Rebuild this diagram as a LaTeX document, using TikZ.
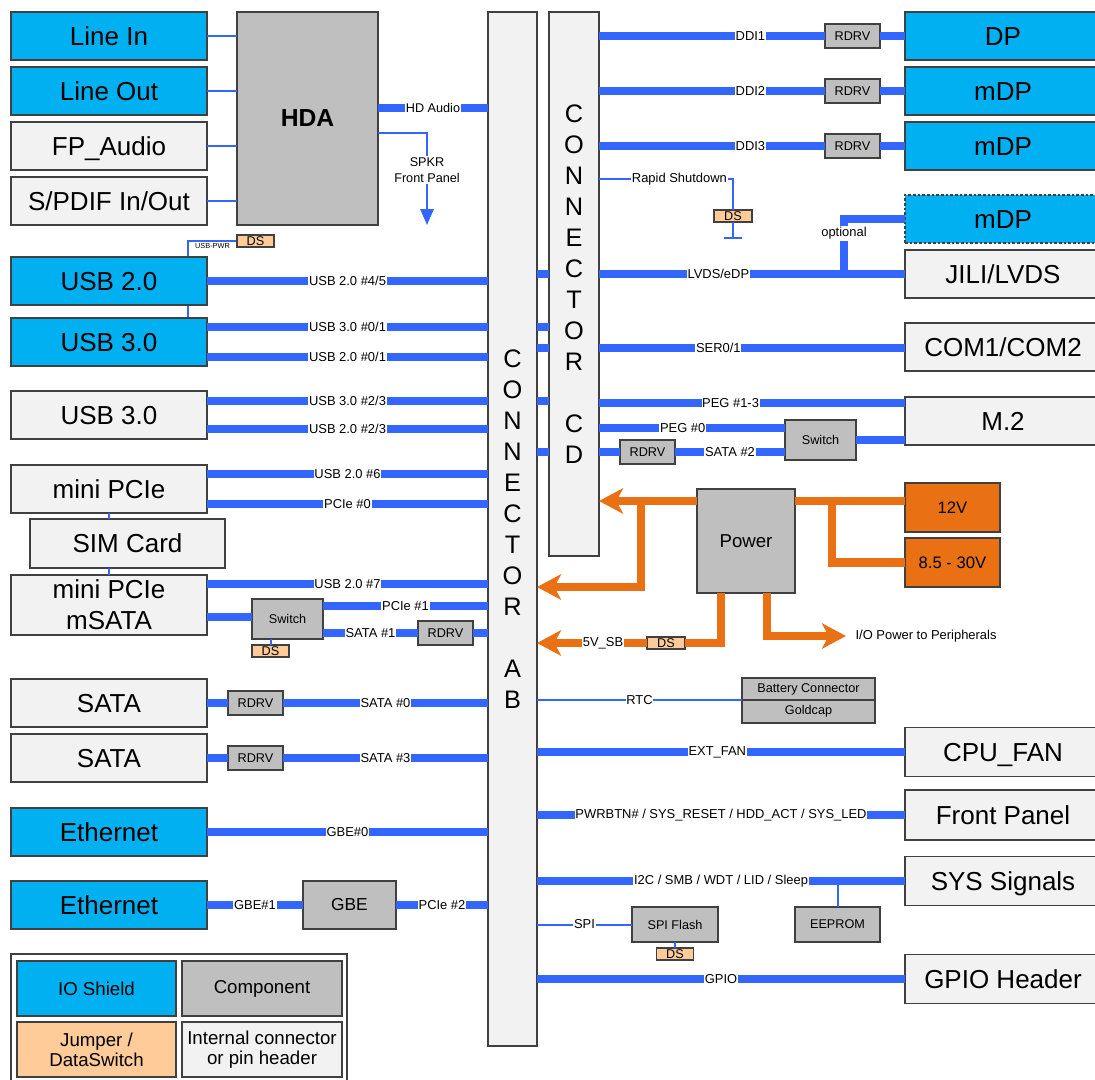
\documentclass[tikz,border=0pt]{standalone}
\usepackage{fontspec}
\setmainfont{Liberation Sans}
\usepackage{xcolor}
\usepackage{tikz}
\usetikzlibrary{arrows.meta,backgrounds}

\definecolor{ioblue}{RGB}{0,176,240}
\definecolor{compgray}{RGB}{191,191,191}
\definecolor{hdrgray}{RGB}{242,242,242}
\definecolor{jmporange}{RGB}{255,204,153}
\definecolor{pworange}{RGB}{233,113,20}
\definecolor{busblue}{RGB}{51,102,255}
\definecolor{boxline}{RGB}{64,64,64}

\newcommand{\boxfont}{\fontsize{19.5}{23.25}\selectfont}
\newcommand{\connfont}{\fontsize{19}{23.25}\selectfont}
\newcommand{\busfont}{\fontsize{9.7}{11}\selectfont}
\newcommand{\compfont}{\fontsize{9.5}{12}\selectfont}
\newcommand{\legfont}{\fontsize{14}{15}\selectfont}
\newcommand{\hdafont}{\fontsize{18.5}{22}\selectfont\bfseries}
\newcommand{\pwrfont}{\fontsize{14}{16}\selectfont}
\newcommand{\supfont}{\fontsize{12.5}{14}\selectfont}
\newcommand{\gbefont}{\fontsize{13}{15}\selectfont}
\newcommand{\wee}{\fontsize{5.5}{6}\selectfont}

\tikzset{
  box/.style={draw=boxline,line width=0.9pt,outer sep=0pt,inner sep=1pt,align=center,text=black},
  sz/.style 2 args={minimum width=#1*0.75pt,minimum height=#2*0.75pt},
  shield/.style={box,fill=ioblue,font=\boxfont,text height=14pt,text depth=0pt},
  hdr/.style={box,fill=hdrgray,font=\boxfont,text height=14pt,text depth=0pt},
  multi/.style={text height=,text depth=},
  comp/.style={box,fill=compgray,font=\compfont},
  jmp/.style={box,fill=jmporange,font=\compfont,inner sep=0pt},
  supply/.style={box,fill=pworange,font=\supfont},
  bus/.style={draw=busblue,line width=5.8pt},
  sig/.style={draw=busblue,line width=1.5pt},
  pline/.style={draw=pworange,line width=6.5pt},
  parrow/.style={-{Stealth[length=18pt,width=19pt,inset=5pt]}},
  lbl/.style={fill=white,inner xsep=0.5pt,inner ysep=1pt,font=\busfont,text=black,align=center},
}

\begin{document}
\begin{tikzpicture}[x=0.75pt,y=-0.75pt,>=Latex]
  \useasboundingbox (0,0) rectangle (1095,1079);
  \clip (0,0) rectangle (1095,1079);

  % left side
  \node[shield,sz={196}{48}] (linein) at (109,36) {Line In};
  \node[shield,sz={196}{48}] (lineout) at (109,91) {Line Out};
  \node[hdr,sz={196}{48}] (fpaudio) at (109,146) {FP\_Audio};
  \node[hdr,sz={196}{48}] (spdif) at (109,201) {S/PDIF In/Out};
  \node[comp,font=\hdafont,sz={141}{213}] (hda) at (307.5,118.5) {HDA};
  \node[jmp,sz={37}{12}] (dsusb) at (255.5,241) {DS};
  \node[shield,sz={196}{48}] (usb2) at (109,281) {USB 2.0};
  \node[shield,sz={196}{48}] (usb3a) at (109,342) {USB 3.0};
  \node[hdr,sz={196}{48}] (usb3b) at (109,415) {USB 3.0};
  \node[hdr,sz={196}{48}] (mpcie) at (109,489) {mini PCIe};
  \node[hdr,sz={195}{49}] (sim) at (127.5,543.5) {SIM Card};
  \node[hdr,multi,sz={196}{60}] (msata) at (109,605) {mini PCIe\\mSATA};
  \node[comp,sz={71}{40}] (swl) at (287.5,619) {Switch};
  \node[jmp,sz={37}{12}] (dsl) at (270.5,651) {DS};
  \node[comp,sz={55}{24}] (rdrvl) at (445.5,633) {RDRV};
  \node[hdr,sz={196}{48}] (sata0) at (109,703) {SATA};
  \node[comp,sz={55}{24}] (rdrv0) at (255.5,703) {RDRV};
  \node[hdr,sz={196}{48}] (sata3) at (109,758) {SATA};
  \node[comp,sz={55}{24}] (rdrv3) at (255.5,758) {RDRV};
  \node[shield,sz={196}{48}] (eth0) at (109,832) {Ethernet};
  \node[shield,sz={196}{48}] (eth1) at (109,905) {Ethernet};
  \node[comp,font=\gbefont,sz={93}{48}] (gbe) at (349.5,905) {GBE};

  % connectors
  \node[box,fill=hdrgray,font=\connfont,sz={49}{1034}] (cab) at (512.5,529)
    {C\\O\\N\\N\\E\\C\\T\\O\\R\\[23.25pt]A\\B};
  \node[box,fill=hdrgray,font=\connfont,sz={50}{544}] (ccd) at (574,284)
    {C\\O\\N\\N\\E\\C\\T\\O\\R\\[23.25pt]C\\D};

  % right side
  \node[comp,sz={55}{24}] (rdrv1) at (852.5,36) {RDRV};
  \node[comp,sz={55}{24}] (rdrv2) at (852.5,91) {RDRV};
  \node[comp,sz={55}{24}] (rdrv3r) at (852.5,146) {RDRV};
  \node[shield,sz={196}{48}] (dp) at (1003,36) {DP};
  \node[shield,sz={196}{48}] (mdp1) at (1003,91) {mDP};
  \node[shield,sz={196}{48}] (mdp2) at (1003,146) {mDP};
  \node[jmp,sz={38}{12}] (dsrs) at (733,216) {DS};
  \coordinate (rsgnd) at (733,238);
  \node[shield,dash pattern=on 2pt off 1.5pt,sz={196}{48}] (mdp3) at (1003,219) {mDP};
  \node[hdr,sz={196}{48}] (jili) at (1003,274) {JILI/LVDS};
  \node[hdr,sz={196}{48}] (com) at (1003,347) {COM1/COM2};
  \node[hdr,sz={196}{48}] (m2) at (1003,421) {M.2};
  \node[comp,sz={71}{40}] (swr) at (820.5,440) {Switch};
  \node[comp,sz={55}{24}] (rdrvr) at (647.5,452) {RDRV};
  \node[comp,font=\pwrfont,sz={98}{104}] (pwr) at (746,541) {Power};
  \node[supply,sz={95}{49}] (v12) at (952.5,507.5) {12V};
  \node[supply,sz={95}{49}] (v85) at (952.5,562.5) {8.5 - 30V};
  \node[jmp,sz={38}{12}] (ds5v) at (666,643) {DS};
  \node[lbl,anchor=west,inner xsep=7pt] (iolbl) at (846,636) {I/O Power to Peripherals};
  \node[comp,sz={133}{22}] (batt) at (808.5,689) {Battery Connector};
  \node[comp,sz={133}{23}] (gold) at (808.5,711.5) {Goldcap};
  \node[hdr,sz={196}{49}] (cpufan) at (1003,752) {CPU\_FAN};
  \node[hdr,sz={196}{50}] (fpanel) at (1003,815) {Front Panel};
  \node[hdr,sz={196}{49}] (syssig) at (1003,881) {SYS Signals};
  \node[comp,sz={86}{35}] (spif) at (675,924.5) {SPI Flash};
  \node[jmp,sz={37}{12}] (dsspi) at (675,954) {DS};
  \node[comp,sz={85}{35}] (eeprom) at (837.5,924.5) {EEPROM};
  \node[hdr,sz={196}{49}] (gpio) at (1003,979) {GPIO Header};

  % legend
  \node[draw=boxline,line width=0.9pt,fill=white,sz={336}{131}] (legend) at (179,1019.5) {};
  \node[shield,multi,font=\legfont,sz={159}{55}] (lgio) at (96.5,988.5) {IO Shield};
  \node[comp,font=\legfont,sz={160}{55}] (lgcomp) at (262,988.5) {Component};
  \node[jmp,font=\legfont,sz={159}{55}] (lgjmp) at (96.5,1049.5) {Jumper /\\DataSwitch};
  \node[hdr,multi,font=\legfont,sz={160}{55}] (lghdr) at (262,1049.5) {Internal connector\\or pin header};

  % audio
  \foreach \n in {linein,lineout,fpaudio,spdif}
    \draw[sig] (\n.east) -- (\n.east -| hda.west);
  \draw[bus] (hda.east |- 0,108) -- (cab.west |- 0,108) node[lbl,midway,font=\compfont] {HD Audio};
  \coordinate (spkr) at (427,225);
  \draw[sig,-{Triangle[length=12pt,width=10pt]}] (hda.east |- 0,133) -| (spkr)
    node[lbl,pos=0.7,font=\compfont] {SPKR\\Front Panel};
  \coordinate (usbpwr) at (188,318);
  \begin{scope}[on background layer]
    \draw[sig] (dsusb.west) -| (usbpwr) node[pos=0.25,below=0.5pt,inner sep=0.5pt,font=\wee] {USB-PWR};
  \end{scope}

  % USB / PCIe / SATA / GBE to connector AB
  \draw[bus] (usb2.east) -- (usb2.east -| cab.west) node[lbl,midway] {USB 2.0 \#4/5};
  \draw[bus] (usb3a.east |- 0,327) -- (cab.west |- 0,327) node[lbl,midway] {USB 3.0 \#0/1};
  \draw[bus] (usb3a.east |- 0,357) -- (cab.west |- 0,357) node[lbl,midway] {USB 2.0 \#0/1};
  \draw[bus] (usb3b.east |- 0,401) -- (cab.west |- 0,401) node[lbl,midway] {USB 3.0 \#2/3};
  \draw[bus] (usb3b.east |- 0,429) -- (cab.west |- 0,429) node[lbl,midway] {USB 2.0 \#2/3};
  \draw[bus] (mpcie.east |- 0,474) -- (cab.west |- 0,474) node[lbl,midway] {USB 2.0 \#6};
  \draw[bus] (mpcie.east |- 0,504) -- (cab.west |- 0,504) node[lbl,midway] {PCIe \#0};
  \draw[sig] (mpcie.south) -- (sim.north -| mpcie.south);
  \draw[sig] (msata.north) -- (sim.south -| msata.north);
  \draw[bus] (msata.east |- 0,584) -- (cab.west |- 0,584) node[lbl,midway] {USB 2.0 \#7};
  \draw[bus] (msata.east |- 0,617) -- (swl.west |- 0,617);
  \draw[bus] (swl.east |- 0,606) -- (cab.west |- 0,606) node[lbl,midway] {PCIe \#1};
  \draw[bus] (swl.east |- rdrvl.west) -- (rdrvl.west) node[lbl,midway] {SATA \#1};
  \draw[bus] (rdrvl.east) -- (rdrvl.east -| cab.west);
  \draw[sig] (dsl.north) -- (dsl.north |- swl.south);
  \draw[bus] (sata0.east) -- (rdrv0.west);
  \draw[bus] (rdrv0.east) -- (rdrv0.east -| cab.west) node[lbl,midway] {SATA \#0};
  \draw[bus] (sata3.east) -- (rdrv3.west);
  \draw[bus] (rdrv3.east) -- (rdrv3.east -| cab.west) node[lbl,midway] {SATA \#3};
  \draw[bus] (eth0.east) -- (eth0.east -| cab.west) node[lbl,midway] {GBE\#0};
  \draw[bus] (eth1.east) -- (gbe.west) node[lbl,midway] {GBE\#1};
  \draw[bus] (gbe.east) -- (gbe.east -| cab.west) node[lbl,midway] {PCIe \#2};

  % AB to CD
  \foreach \y in {274,327,348,401,452}
    \draw[bus] (cab.east |- 0,\y) -- (ccd.west |- 0,\y);

  % connector CD outputs
  \foreach \r/\d/\t in {rdrv1/dp/DDI1,rdrv2/mdp1/DDI2,rdrv3r/mdp2/DDI3} {
    \draw[bus] (ccd.east |- \r.west) -- (\r.west) node[lbl,pos=0.67] {\t};
    \draw[bus] (\r.east) -- (\r.east -| \d.west);
  }
  \draw[sig] (ccd.east |- 0,179) -| (dsrs.north) node[lbl,pos=0.3] {Rapid Shutdown};
  \draw[sig] (dsrs.south) -- (rsgnd);
  \draw[sig] ([xshift=-7pt]rsgnd) -- ([xshift=7pt]rsgnd);
  \coordinate (optj) at (844,274);
  \draw[bus] (ccd.east |- jili.west) -- (jili.west) node[lbl,pos=0.39] {LVDS/eDP};
  \draw[bus] (mdp3.west) -| (optj) node[lbl,pos=0.63] {optional};
  \draw[bus] (ccd.east |- 0,348) -- (com.west |- 0,348) node[lbl,pos=0.39] {SER0/1};
  \draw[bus] (ccd.east |- 0,403) -- (m2.west |- 0,403) node[lbl,pos=0.43] {PEG \#1-3};
  \draw[bus] (ccd.east |- 0,428) -- (swr.west |- 0,428) node[lbl,pos=0.45] {PEG \#0};
  \draw[bus] (ccd.east |- rdrvr.west) -- (rdrvr.west);
  \draw[bus] (rdrvr.east) -- (rdrvr.east -| swr.west) node[lbl,midway] {SATA \#2};
  \draw[bus] (swr.east) -- (swr.east -| m2.west);

  % power
  \coordinate (pbr) at (832,501);
  \coordinate (pbl) at (641,501);
  \draw[pline] (pwr.east |- 0,501) -- (v12.west |- 0,501);
  \draw[pline] (pbr) |- (v85.west);
  \draw[pline,parrow] (pwr.west |- 0,501) -- (ccd.east |- 0,501);
  \draw[pline,parrow] (pbl) |- (cab.east |- 0,587);
  \draw[pline] (pwr.south -| 721,0) |- (ds5v.east);
  \draw[pline,parrow] (ds5v.west) -- (ds5v.west -| cab.east) node[lbl,pos=0.4] {5V\_SB};
  \draw[pline,parrow] (pwr.south -| 767,0) |- (iolbl.west);

  % misc signals on AB
  \draw[sig] (cab.east |- gold.north west) -- (gold.north west) node[lbl,midway] {RTC};
  \draw[bus] (cab.east |- cpufan.west) -- (cpufan.west) node[lbl,pos=0.49] {EXT\_FAN};
  \draw[bus] (cab.east |- fpanel.west) -- (fpanel.west) node[lbl,midway] {PWRBTN\# / SYS\_RESET / HDD\_ACT / SYS\_LED};
  \draw[bus] (cab.east |- syssig.west) -- (syssig.west) node[lbl,midway] {I2C / SMB / WDT / LID / Sleep};
  \draw[sig] (eeprom.north) -- (eeprom.north |- syssig.west);
  \draw[sig] (cab.east |- spif.west) -- (spif.west) node[lbl,midway] {SPI};
  \draw[sig] (dsspi.north) -- (dsspi.north |- spif.south);
  \draw[bus] (cab.east |- gpio.west) -- (gpio.west) node[lbl,midway] {GPIO};
\end{tikzpicture}
\end{document}
